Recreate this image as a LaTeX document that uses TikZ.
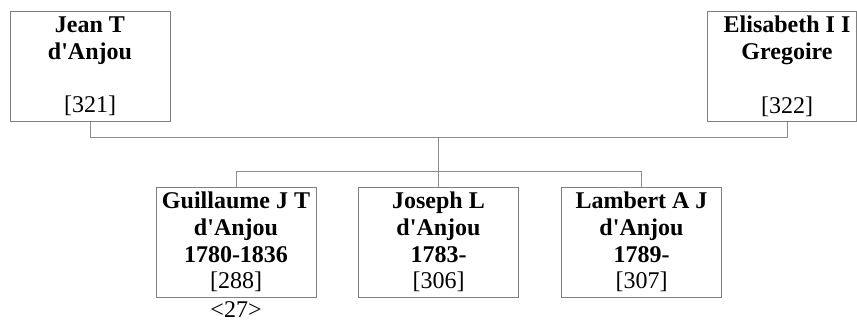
\documentclass[tikz,border=0pt]{standalone}
\usepackage{fontspec}
\setmainfont{Liberation Serif}
\definecolor{boxgray}{RGB}{128,128,128}
\definecolor{linegray}{RGB}{140,140,140}
\newcommand\apos{\textquotesingle}
\begin{document}
\begin{tikzpicture}[x=1pt,y=-1pt,
  box/.style={draw=boxgray, line width=1pt, minimum width=160pt, minimum height=110pt,
    align=center, inner sep=0pt, font=\fontsize{24}{26.7}\selectfont\bfseries},
  conn/.style={draw=linegray, line width=1pt},
  num/.style={font=\fontsize{24}{26.7}\selectfont, inner sep=0pt}]
\useasboundingbox (0,0) rectangle (857,321);
% parents
\node[box, minimum height=109.5pt] (jean) at (90,66.25) {Jean T\\d\apos Anjou\\\mbox{}\\{\mdseries[321]}};
\node[draw=boxgray, line width=1pt, minimum width=149.5pt, minimum height=109.5pt, inner sep=0pt] (elibox) at (781.75,66.25) {};
\node[box, draw=none, minimum height=109.5pt] (eli) at (787,66.25) {Elisabeth I I\\Gregoire\\\mbox{}\\{\mdseries[322]}};
% children
\node[box] (gui) at (236,242) {Guillaume J T\\d\apos Anjou\\1780-1836\\{\mdseries[288]}};
\node[box] (jos) at (438.5,242) {Joseph L\\d\apos Anjou\\1783-\\{\mdseries[306]}};
\node[box] (lam) at (641.5,242) {Lambert A J\\d\apos Anjou\\1789-\\{\mdseries[307]}};
\node[num, anchor=base] (gen) at (236,317) {<27>};
% connectors
\coordinate (mid) at (jos.north |- 0,137);
\draw[conn] (jean.south) -- ++(0,16) -| (eli.south);
\draw[conn] (mid) -- (jos.north);
\draw[conn] (gui.north) -- ++(0,-15) -| (lam.north);
\end{tikzpicture}
\end{document}
